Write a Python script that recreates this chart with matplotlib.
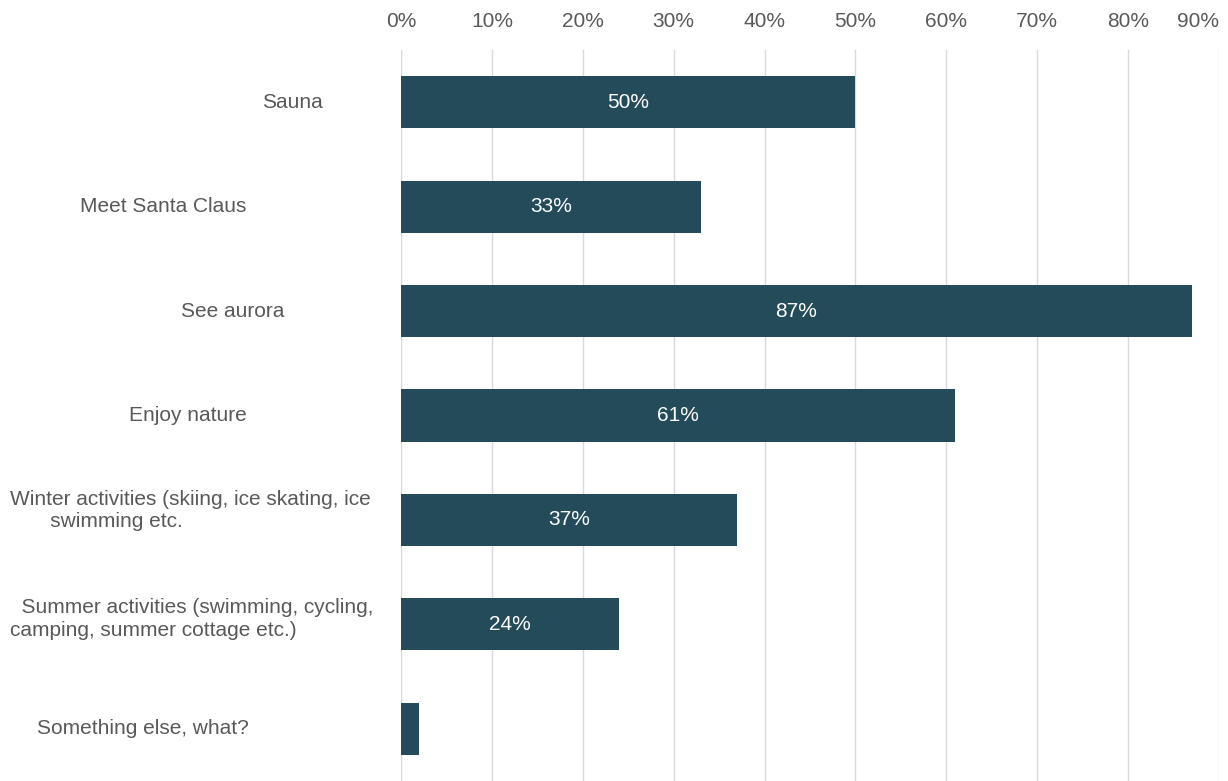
import numpy as np
import matplotlib.pyplot as plt
import matplotlib.transforms as mtransforms

categories = ['Sauna', 'Meet Santa Claus', 'See aurora', 'Enjoy nature',
              'Winter activities (skiing, ice skating, ice\n       swimming etc.',
              '  Summer activities (swimming, cycling,\ncamping, summer cottage etc.)',
              'Something else, what?']
values = [50, 33, 87, 61, 37, 24, 2]
show_label = [True, True, True, True, True, True, False]
xticks = list(range(0, 100, 10))

# left edge of each category label, in figure pixels
label_left = [262, 80, 181, 129, 10, 10, 37]
label_dy = [0, 0, 0, 0, -0.09, -0.05, 0]

bar_color = '#234b5a'
text_color = '#595959'
fs = 15

plt.rcParams['font.family'] = ['Liberation Sans', 'DejaVu Sans']

W, H = 1228, 781
fig = plt.figure(figsize=(W / 100, H / 100), dpi=100)
ax = fig.add_axes([401 / W, 0, (1219 - 401) / W, 1 - 50 / H])

y = np.arange(len(categories))
ax.barh(y, values, height=0.5, color=bar_color, zorder=3)
ax.set_ylim(len(categories) - 0.5, -0.5)
ax.set_xlim(0, 90)

for i, v in enumerate(values):
    if show_label[i]:
        ax.text(v / 2, i, f'{v}%', ha='center', va='center', color='white',
                fontsize=fs, zorder=4)

ax.set_xticks(xticks)
ax.set_xticklabels([f'{t}%' for t in xticks])
ax.xaxis.tick_top()
ax.tick_params(axis='x', length=0, pad=14, labelsize=fs, colors=text_color)
ax.get_xticklabels()[-1].set_horizontalalignment('right')
ax.set_yticks([])
ax.grid(axis='x', color='#d9d9d9', linewidth=1, zorder=0)
ax.axvline(0, color='#cfd8ea', linewidth=1.5, zorder=1)
for s in ax.spines.values():
    s.set_visible(False)

trans = mtransforms.blended_transform_factory(fig.transFigure, ax.transData)
for i, lab in enumerate(categories):
    ax.text(label_left[i] / W, i + label_dy[i], lab, transform=trans,
            ha='left', va='center', multialignment='left',
            color=text_color, fontsize=fs, linespacing=1.25, clip_on=False)

fig.savefig('out.png', dpi=100)
